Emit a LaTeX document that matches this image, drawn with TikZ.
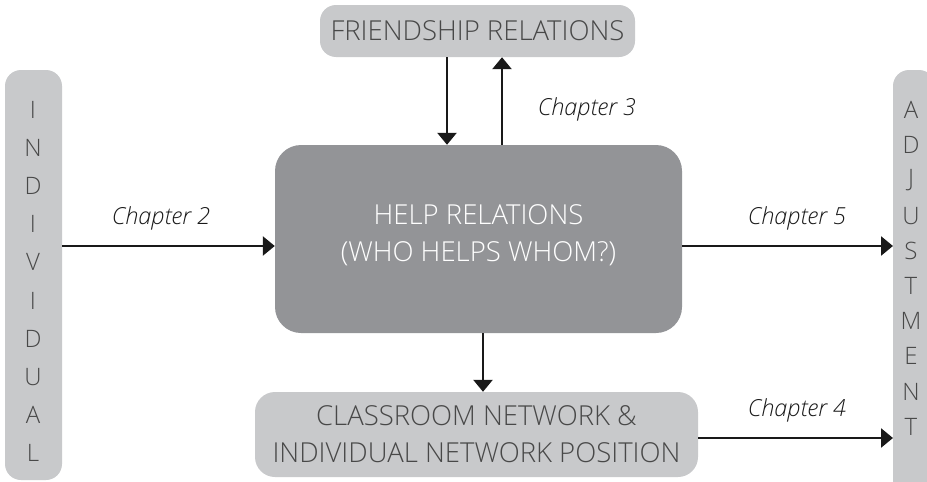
\documentclass[tikz,border=0pt]{standalone}
\usepackage{fontspec}
\setmainfont{Open Sans}[UprightFont={* Light},ItalicFont={* Light Italic}]
\usetikzlibrary{arrows.meta}
\definecolor{lightbox}{HTML}{C8C9CB}
\definecolor{darkbox}{HTML}{939497}
\definecolor{labeltext}{HTML}{484848}
\begin{document}
\begin{tikzpicture}[x=1pt,y=-1pt,
  lbox/.style={fill=lightbox,rounded corners=16pt},
  dbox/.style={fill=darkbox,rounded corners=26pt},
  conn/.style={line width=2.6pt,draw=black!90,-{Triangle[length=12pt,width=19pt]}},
  chap/.style={font=\fontsize{23.5}{26}\selectfont\itshape,text=black!90},
  boxtext/.style={font=\fontsize{27.5}{37}\selectfont,text=labeltext,align=center},
  bartext/.style={font=\fontsize{24}{26}\selectfont,text=labeltext}
]
\useasboundingbox (0,0) rectangle (927,482);
% side bars
\fill[lbox] (5,70) rectangle (62,480);
\begin{scope}
  \clip (0,0) rectangle (927,482);
  \fill[lbox] (893,70) rectangle (935,496);
\end{scope}
\coordinate (indR) at (62,246);
\coordinate (adjL) at (893,246);
\coordinate (adjL2) at (893,438);
\foreach \ch [count=\i from 0] in {I,N,D,I,V,I,D,U,A,L}
  \node[bartext] (ind\i) at (33,110+38.1*\i) {\ch};
\foreach \ch [count=\i from 0] in {A,D,J,U,S,T,M,E,N,T}
  \node[bartext] (adj\i) at (911,110+35.2*\i) {\ch};
% boxes
\node[lbox,boxtext,minimum width=315pt,minimum height=52pt,inner sep=0pt] (friend) at (477.5,31) {\raisebox{-2pt}{FRIENDSHIP RELATIONS}};
\node[dbox,boxtext,text=white,minimum width=407pt,minimum height=188pt,inner sep=0pt] (help) at (478.5,239) {\raisebox{32pt}{\parbox{400pt}{\centering HELP RELATIONS\\(WHO HELPS WHOM?)}}};
\node[lbox,boxtext,minimum width=443pt,minimum height=85pt,inner sep=0pt,rounded corners=20pt] (class) at (476.5,434.5) {\raisebox{7pt}{\parbox{440pt}{\centering CLASSROOM NETWORK \&\\INDIVIDUAL NETWORK POSITION}}};
% connectors
\draw[conn] (friend.south -| 447,0) -- (help.north -| 447,0);
\draw[conn] (help.north -| 502,0) -- (friend.south -| 502,0);
\draw[conn] (help.south -| 483,0) -- (class.north -| 483,0);
\draw[conn] (indR) -- (indR -| help.west);
\draw[conn] (help.east |- adjL) -- (adjL);
\draw[conn] (class.east |- adjL2) -- (adjL2);
% chapter labels
\node[chap] (c2) at (161,218) {Chapter 2};
\node[chap] (c3) at (587,109) {Chapter 3};
\node[chap] (c5) at (797,218) {Chapter 5};
\node[chap] (c4) at (797,410) {Chapter 4};
\end{tikzpicture}
\end{document}
